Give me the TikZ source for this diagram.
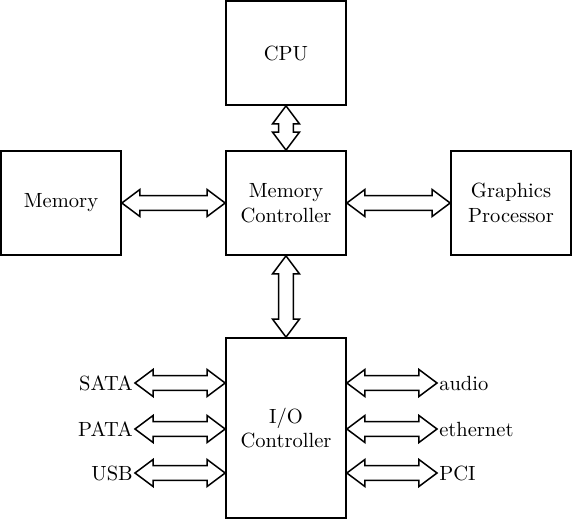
\documentclass[tikz,border=0pt]{standalone}
\usetikzlibrary{calc}
\begin{document}
\begin{tikzpicture}[x=0.526pt,y=-0.526pt,
  every node/.style={font=\fontsize{10.8}{13}\selectfont},
  box/.style={draw, line width=0.9pt, minimum width=63.1pt, minimum height=54.7pt, align=center, inner sep=0pt},
  lbl/.style={inner sep=1pt},
  dbl/.style={draw, line width=0.8pt, line join=miter, to path={
    (\tikztostart)
    -- ($(\tikztostart)!9.5pt!(\tikztotarget)!7.1pt!90:(\tikztotarget)$)
    -- ($(\tikztostart)!9.5pt!(\tikztotarget)!3.9pt!90:(\tikztotarget)$)
    -- ($(\tikztotarget)!9.5pt!(\tikztostart)!3.9pt!-90:(\tikztostart)$)
    -- ($(\tikztotarget)!9.5pt!(\tikztostart)!7.1pt!-90:(\tikztostart)$)
    -- (\tikztotarget)
    -- ($(\tikztotarget)!9.5pt!(\tikztostart)!7.1pt!90:(\tikztostart)$)
    -- ($(\tikztotarget)!9.5pt!(\tikztostart)!3.9pt!90:(\tikztostart)$)
    -- ($(\tikztostart)!9.5pt!(\tikztotarget)!3.9pt!-90:(\tikztotarget)$)
    -- ($(\tikztostart)!9.5pt!(\tikztotarget)!7.1pt!-90:(\tikztotarget)$)
    -- cycle}}]
\useasboundingbox (0,0) rectangle (572,520);
\node[box] (cpu) at (286,53) {CPU};
\node[box] (mem) at (61,203) {Memory};
\node[box] (mc) at (286,203) {Memory\\Controller};
\node[box] (gp) at (511,203) {Graphics\\Processor};
\node[box, minimum height=94.7pt] (io) at (286,428) {I/O\\Controller};

\draw[dbl] (cpu.south) to (mc.north);
\draw[dbl] (mem.east) to (mc.west);
\draw[dbl] (mc.east) to (gp.west);
\draw[dbl] (mc.south) to (io.north);

\node[lbl, anchor=east] (sata) at (135,383) {SATA};
\node[lbl, anchor=east] (pata) at (135,429) {PATA};
\node[lbl, anchor=east] (usb) at (135,473) {USB};
\node[lbl, anchor=west] (audio) at (437,383) {audio};
\node[lbl, anchor=west] (eth) at (437,429) {ethernet};
\node[lbl, anchor=west] (pci) at (437,473) {PCI};

\draw[dbl] (sata.east) to (io.west |- sata.east);
\draw[dbl] (pata.east) to (io.west |- pata.east);
\draw[dbl] (usb.east) to (io.west |- usb.east);
\draw[dbl] (io.east |- audio.west) to (audio.west);
\draw[dbl] (io.east |- eth.west) to (eth.west);
\draw[dbl] (io.east |- pci.west) to (pci.west);
\end{tikzpicture}
\end{document}
